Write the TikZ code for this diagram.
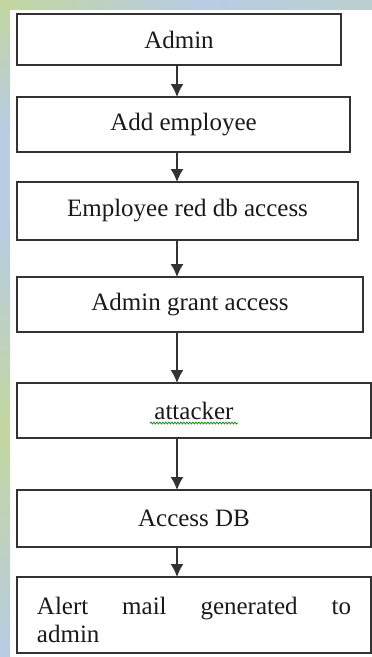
\documentclass[tikz,border=0pt]{standalone}
\usepackage{fontspec}
\setmainfont{Liberation Serif}
\usepackage{tikz}
\usetikzlibrary{arrows.meta,decorations.pathmorphing}
\definecolor{bggreen}{HTML}{C3D69F}
\definecolor{bgblue}{HTML}{B8CCE4}
\definecolor{boxline}{HTML}{333333}
\definecolor{boxtext}{HTML}{1A1A1A}

\begin{document}
\begin{tikzpicture}[x=1pt,y=-1pt,
	stepbox/.style={draw=boxline,line width=1.7pt,fill=white,anchor=north west,outer sep=0pt,
		text=boxtext,font=\fontsize{25}{28}\selectfont},
	flow/.style={draw=boxline,line width=1.4pt,-{Latex[length=13pt,width=13pt]}},
	spell/.style={draw=green!55!black,line width=0.7pt,decorate,decoration={snake,amplitude=1pt,segment length=3pt}}]
	\useasboundingbox (0,0) rectangle (372,657);
	\fill[white] (0,0) rectangle (372,657);
	\shade[left color=bggreen,right color=bgblue] (0,0) rectangle (200,9);
	\shade[left color=bgblue,right color=bgblue!70!bggreen] (200,0) rectangle (372,9);
	\shade[top color=bggreen,bottom color=bgblue] (0,0) rectangle (10,130);
	\fill[bgblue] (0,130) rectangle (10,220);
	\shade[top color=bgblue,bottom color=bggreen] (0,220) rectangle (10,430);
	\shade[top color=bggreen,bottom color=bgblue] (0,430) rectangle (10,657);
	\node[stepbox,minimum width=324pt,minimum height=51pt] (admin) at (17,14) {Admin};
	\node[stepbox,minimum width=333pt,minimum height=55pt] (addemp) at (17,97) {Add employee};
	\node[stepbox,minimum width=341pt,minimum height=58pt] (reddb) at (17,182) {Employee red db access};
	\node[stepbox,minimum width=346pt,minimum height=55pt] (grant) at (17,277) {Admin grant access};
	\node[stepbox,minimum width=354pt,minimum height=55pt] (attacker) at (17,383) {attacker};
	\node[stepbox,minimum width=354pt,minimum height=76pt,inner xsep=20pt,text width=314pt,align=left] (alert) at (17,577)
		{\hbox to 314pt{\rule{0pt}{27pt}Alert\hfill mail\hfill generated\hfill to}\\admin};
	\node[stepbox,minimum width=354pt,minimum height=57pt] (accessdb) at (17,490) {Access DB};
	\coordinate (arrx) at (177,0);
	\draw[flow] (admin.south -| arrx) -- (addemp.north -| arrx);
	\draw[flow] (addemp.south -| arrx) -- (reddb.north -| arrx);
	\draw[flow] (reddb.south -| arrx) -- (grant.north -| arrx);
	\draw[flow] (grant.south -| arrx) -- (attacker.north -| arrx);
	\draw[flow] (attacker.south -| arrx) -- (accessdb.north -| arrx);
	\draw[flow] (accessdb.south -| arrx) -- (alert.north -| arrx);
	\draw[spell] ([xshift=-44pt,yshift=-4pt]attacker.base) -- ([xshift=44pt,yshift=-4pt]attacker.base);
\end{tikzpicture}
\end{document}
